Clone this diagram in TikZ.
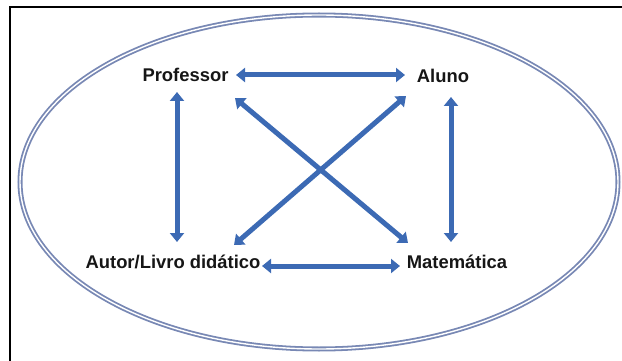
\documentclass[tikz,border=0pt]{standalone}
\usepackage{fontspec}
\setmainfont{Liberation Sans}
\usetikzlibrary{arrows.meta}
\definecolor{arrowblue}{RGB}{60,106,180}
\definecolor{ringblue}{RGB}{120,136,180}
\definecolor{txt}{RGB}{22,22,22}
\tikzset{
  label/.style={anchor=base,inner sep=0pt,text=txt,font=\fontsize{18.4}{20}\selectfont\bfseries},
  dbl/.style={draw=arrowblue,line width=5pt,
    {Triangle[width=14pt,length=9pt]}-{Triangle[width=14pt,length=9pt]}},
  ring/.style={draw=ringblue,line width=1.8pt,double=white,double distance=1.4pt},
  frame/.style={draw=black,line width=2.2pt}
}
\begin{document}
\begin{tikzpicture}[x=1pt,y=-1pt]
\useasboundingbox (0,0) rectangle (622,361);
% frame
\coordinate (f1) at (10,361);
\coordinate (f2) at (10,7);
\coordinate (f3) at (622,7);
\draw[frame] (f1) -- (f2) -- (f3);
% ellipse
\draw[ring] (319,182) ellipse [x radius=299, y radius=167];
% labels
\node[label] (prof) at (185.5,82) {Professor};
\node[label] (aluno) at (443,83) {Aluno};
\node[label] (autor) at (173,268) {Autor/Livro didático};
\node[label] (mat) at (457,268) {Matemática};
% arrow end points
\coordinate (pE) at (236,75);
\coordinate (aW) at (405,75);
\coordinate (pS) at (177,92);
\coordinate (uN) at (177,242);
\coordinate (aS) at (451,97);
\coordinate (mN) at (451,242);
\coordinate (uE) at (262,266);
\coordinate (mW) at (400,266);
\coordinate (pSE) at (235,98);
\coordinate (mNW) at (408,243);
\coordinate (aSW) at (406,96);
\coordinate (uNE) at (234,245);
% arrows
\draw[dbl] (pE) -- (aW);
\draw[dbl] (pS) -- (uN);
\draw[dbl] (aS) -- (mN);
\draw[dbl] (uE) -- (mW);
\draw[dbl] (pSE) -- (mNW);
\draw[dbl] (aSW) -- (uNE);
\end{tikzpicture}
\end{document}
